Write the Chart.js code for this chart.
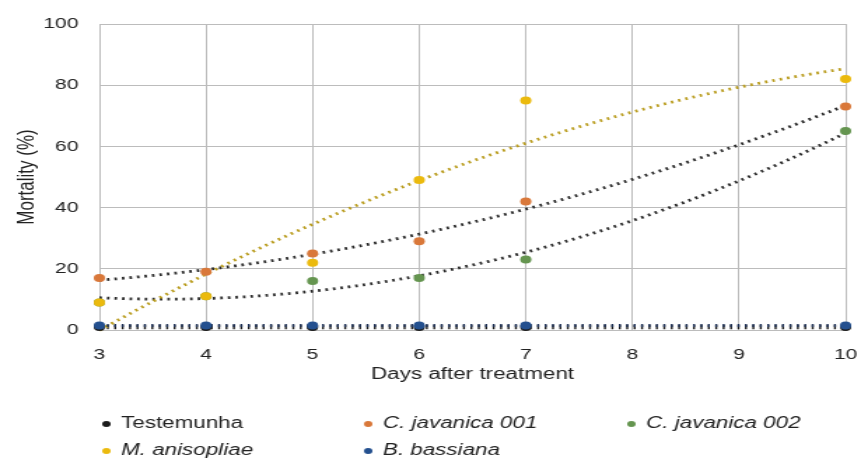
<!DOCTYPE html>
<html>
<head>
<meta charset="utf-8">
<script src="https://cdn.jsdelivr.net/npm/chart.js@4.4.1/dist/chart.umd.min.js"></script>
<style>
  html, body { margin: 0; padding: 0; background: #fff; overflow: hidden; }
  #wrap { width: 858px; height: 459px; position: relative; overflow: hidden; }
  #chart { position: absolute; left: 0; top: 0; transform-origin: 0 0; }
</style>
</head>
<body>
<div id="wrap"><canvas id="chart"></canvas></div>
<script>
// Mortality (%) per day after treatment
const days = [3, 4, 5, 6, 7, 10];
const testemunha = [1, 1, 1, 1, 1, 1];
const cJavanica001 = [17, 19, 25, 29, 42, 73];
const cJavanica002 = [9, 11, 16, 17, 23, 65];
const mAnisopliae = [9, 11, 22, 49, 75, 82];
const bBassiana = [1.5, 1.5, 1.5, 1.5, 1.5, 1.5];

const seriesNames = ['Testemunha', 'C. javanica 001', 'C. javanica 002', 'M. anisopliae', 'B. bassiana'];
const xTicks = [3, 4, 5, 6, 7, 8, 9, 10];
const yTicks = [0, 20, 40, 60, 80, 100];
const xTitle = 'Days after treatment';
const yTitle = 'Mortality (%)';

// wide-glyph look: the canvas is drawn narrower and stretched horizontally
const STRETCH = 1.4;
const PAGE_W = 858, PAGE_H = 459;
const W = Math.round(PAGE_W / STRETCH), H = PAGE_H;

const FONT = '"Liberation Sans", Arial, sans-serif';
const TEXT = '#222222';
const GRID = '#bcbcbc';

const styles = [
  { color: '#1b1b1b', italic: false, trend: '#1b1b1b', trendWidth: 4.5, dash: [1.4, 3.9] },
  { color: '#d9783a', italic: true,  trend: '#2a2a2a', trendWidth: 2.8, dash: [1.8, 3.6] },
  { color: '#659550', italic: true,  trend: '#2a2a2a', trendWidth: 2.8, dash: [1.8, 3.6] },
  { color: '#ebba0e', italic: true,  trend: '#b99c1e', trendWidth: 2.8, dash: [1.8, 3.6] },
  { color: '#24508f', italic: true,  trend: '#1c2f55', trendWidth: 3, dash: [1.4, 3.9] }
];
const seriesValues = [testemunha, cJavanica001, cJavanica002, mAnisopliae, bBassiana];

// least-squares quadratic a + b x + c x^2
function quadFit(xs, ys) {
  let S = [0, 0, 0, 0, 0], T = [0, 0, 0];
  xs.forEach((x, i) => {
    for (let k = 0; k < 5; k++) S[k] += Math.pow(x, k);
    for (let k = 0; k < 3; k++) T[k] += Math.pow(x, k) * ys[i];
  });
  const M = [[S[0], S[1], S[2], T[0]], [S[1], S[2], S[3], T[1]], [S[2], S[3], S[4], T[2]]];
  for (let i = 0; i < 3; i++) {
    let p = i;
    for (let r = i + 1; r < 3; r++) if (Math.abs(M[r][i]) > Math.abs(M[p][i])) p = r;
    [M[i], M[p]] = [M[p], M[i]];
    for (let r = 0; r < 3; r++) {
      if (r === i) continue;
      const f = M[r][i] / M[i][i];
      for (let c = i; c < 4; c++) M[r][c] -= f * M[i][c];
    }
  }
  const a = M[0][3] / M[0][0], b = M[1][3] / M[1][1], c = M[2][3] / M[2][2];
  return x => a + b * x + c * x * x;
}

// later series are painted over earlier ones
const datasets = seriesNames.map((name, i) => ({
  label: name,
  data: days.map((d, j) => ({ x: d, y: seriesValues[i][j] })),
  order: seriesNames.length - i,
  clip: false,
  showLine: false,
  pointRadius: 4,
  pointHoverRadius: 4,
  pointBorderWidth: 0,
  backgroundColor: styles[i].color,
  borderColor: styles[i].color
}));

// dotted polynomial trend curves, one per series
const trendPlugin = {
  id: 'trends',
  beforeDatasetsDraw(chart) {
    const { ctx, chartArea: a, scales: { x, y } } = chart;
    ctx.save();
    ctx.beginPath();
    ctx.rect(a.left, a.top - 4, a.right - a.left, a.bottom - a.top + 8);
    ctx.clip();
    seriesNames.forEach((name, i) => {
      const ds = chart.data.datasets[i];
      const xs = ds.data.map(p => p.x), ys = ds.data.map(p => p.y);
      const f = quadFit(xs, ys);
      const x0 = x.getPixelForValue(Math.min(...xs));
      const x1 = x.getPixelForValue(Math.max(...xs));
      ctx.beginPath();
      for (let px = x0; px <= x1 + 0.01; px += 0.5) {
        const py = y.getPixelForValue(f(x.getValueForPixel(px)));
        if (px === x0) ctx.moveTo(px, py); else ctx.lineTo(px, py);
      }
      ctx.strokeStyle = styles[i].trend;
      ctx.lineWidth = styles[i].trendWidth;
      ctx.setLineDash(styles[i].dash);
      ctx.lineCap = 'butt';
      ctx.stroke();
    });
    ctx.restore();
  }
};

// legend laid out in three columns below the axis title
const legendCols = [76, 263, 451];
const legendRows = [424, 451];
const legendPlugin = {
  id: 'gridLegend',
  afterDraw(chart) {
    const ctx = chart.ctx;
    ctx.save();
    seriesNames.forEach((name, i) => {
      const cx = legendCols[i % 3], cy = legendRows[Math.floor(i / 3)];
      ctx.beginPath();
      ctx.arc(cx, cy, 3, 0, Math.PI * 2);
      ctx.fillStyle = styles[i].color;
      ctx.fill();
      ctx.font = (styles[i].italic ? 'italic ' : '') + '16px ' + FONT;
      ctx.fillStyle = TEXT;
      ctx.textAlign = 'left';
      ctx.textBaseline = 'middle';
      ctx.fillText(chart.data.datasets[i].label, cx + 10.5, cy);
    });
    ctx.restore();
  }
};

const canvas = document.getElementById('chart');
canvas.width = W; canvas.height = H;
canvas.style.width = W + 'px'; canvas.style.height = H + 'px';
canvas.style.transform = 'scaleX(' + STRETCH + ')';

new Chart(canvas, {
  type: 'scatter',
  data: { datasets },
  options: {
    responsive: false,
    animation: false,
    devicePixelRatio: 1,
    layout: { padding: { top: 23, left: 0, right: 9, bottom: 69 } },
    plugins: { legend: { display: false }, tooltip: { enabled: false } },
    scales: {
      x: {
        type: 'linear', min: 3, max: 10,
        afterBuildTicks: s => { s.ticks = xTicks.map(v => ({ value: v })); },
        afterFit: s => { s.height = 60; s.paddingLeft = 0; s.paddingRight = 0; },
        grid: { color: GRID, lineWidth: 1, drawTicks: false },
        border: { color: GRID, width: 1 },
        ticks: { color: TEXT, font: { family: FONT, size: 15 }, padding: 16, maxRotation: 0 },
        title: { display: true, text: xTitle, color: TEXT, font: { family: FONT, size: 16 }, padding: { top: 0, bottom: 6 } }
      },
      y: {
        type: 'linear', min: 0, max: 100,
        afterBuildTicks: s => { s.ticks = yTicks.map(v => ({ value: v })); },
        afterFit: s => { s.width = 71; },
        grid: { color: GRID, lineWidth: 1, drawTicks: false },
        border: { color: GRID, width: 1 },
        ticks: { color: TEXT, font: { family: FONT, size: 15 }, padding: 15 },
        title: { display: true, text: yTitle, color: TEXT, font: { family: FONT, size: 17 }, padding: { top: 9, bottom: 0 } }
      }
    }
  },
  plugins: [trendPlugin, legendPlugin]
});
</script>
</body>
</html>
